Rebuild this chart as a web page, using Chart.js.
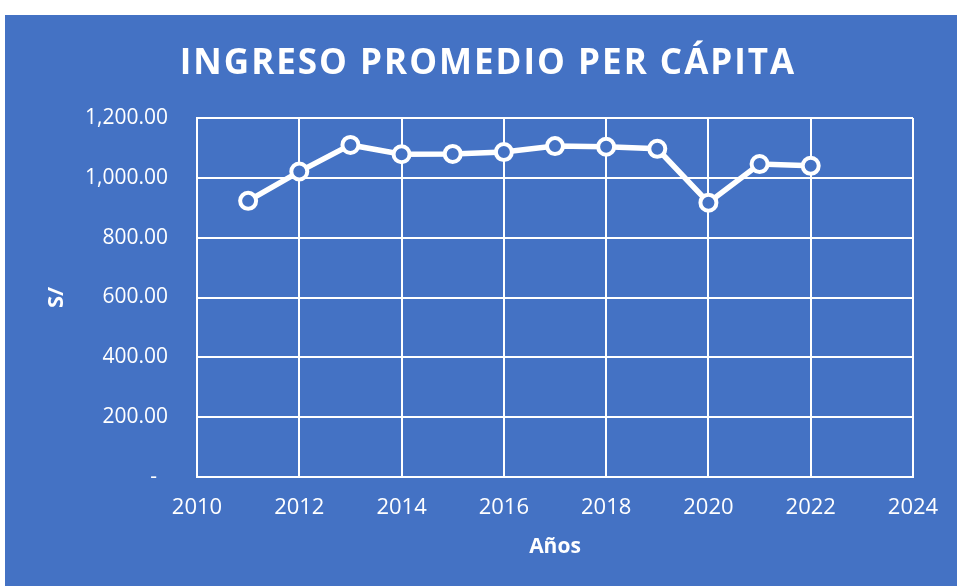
<!DOCTYPE html>
<html>
<head>
<meta charset="utf-8">
<script src="https://cdn.jsdelivr.net/npm/chart.js@4"></script>
<style>
  html, body { margin: 0; padding: 0; background: #ffffff; }
  #wrap { position: absolute; left: 5px; top: 15px; width: 952px; height: 571px; background: #4472C4; }
  canvas { display: block; }
</style>
</head>
<body>
<div id="wrap"><canvas id="c" width="952" height="571"></canvas></div>
<script>
const years = [2011, 2012, 2013, 2014, 2015, 2016, 2017, 2018, 2019, 2020, 2021, 2022];
const ingreso = [923, 1021, 1110, 1079, 1080, 1086, 1106, 1104, 1097, 917, 1046, 1040];
const titleText = 'INGRESO PROMEDIO PER CÁPITA';
const xTitle = 'Años';
const yTitle = 'S/';

const BG = '#4472C4';
const WHITE = '#ffffff';

const letterSpacingTitle = {
  id: 'letterSpacingTitle',
  beforeDraw(chart) {
    const tb = chart.titleBlock;
    if (tb && !tb._lsPatched) {
      const orig = tb.draw;
      tb.draw = function () {
        const ctx = chart.ctx;
        ctx.save();
        ctx.letterSpacing = '2px';
        ctx.translate(29, 2);
        orig.apply(this, arguments);
        ctx.restore();
      };
      tb._lsPatched = true;
    }
  }
};

new Chart(document.getElementById('c'), {
  type: 'line',
  data: {
    datasets: [{
      data: years.map((y, i) => ({ x: y, y: ingreso[i] })),
      borderColor: WHITE,
      borderWidth: 5.5,
      pointRadius: 8,
      pointBorderWidth: 4,
      pointBackgroundColor: BG,
      pointBorderColor: WHITE,
      tension: 0
    }]
  },
  plugins: [letterSpacingTitle],
  options: {
    responsive: false,
    animation: false,
    layout: { padding: { left: 0, right: 44, top: 0, bottom: 0 } },
    plugins: {
      legend: { display: false },
      tooltip: { enabled: false },
      title: {
        display: true,
        text: titleText,
        color: WHITE,
        font: { family: 'Open Sans', size: 35, weight: 'bold' },
        padding: { top: 26, bottom: 35 }
      }
    },
    scales: {
      x: {
        type: 'linear',
        min: 2010,
        max: 2024,
        afterFit(scale) { scale.height = 109; },
        ticks: {
          stepSize: 2,
          color: WHITE,
          padding: 18,
          font: { family: 'Open Sans', size: 22 },
          callback: v => String(v)
        },
        grid: { color: WHITE, lineWidth: 2, drawTicks: false },
        border: { color: WHITE, width: 2 },
        title: {
          display: true,
          text: xTitle,
          color: WHITE,
          font: { family: 'Open Sans', size: 21, weight: 'bold' },
          padding: { top: 0, bottom: 26 }
        }
      },
      y: {
        min: 0,
        max: 1200,
        afterFit(scale) { scale.width = 192; },
        ticks: {
          stepSize: 200,
          color: WHITE,
          padding: 29,
          font: { family: 'Open Sans', size: 21 },
          callback: v => v === 0 ? '-  ' : v.toLocaleString('en-US', { minimumFractionDigits: 2, maximumFractionDigits: 2 })
        },
        grid: { color: WHITE, lineWidth: 2, drawTicks: false },
        border: { color: WHITE, width: 2 },
        title: {
          display: true,
          text: yTitle,
          color: WHITE,
          font: { family: 'Open Sans', size: 22, weight: 'bold' },
          padding: { top: 39, bottom: 0 }
        }
      }
    }
  }
});
</script>
</body>
</html>
